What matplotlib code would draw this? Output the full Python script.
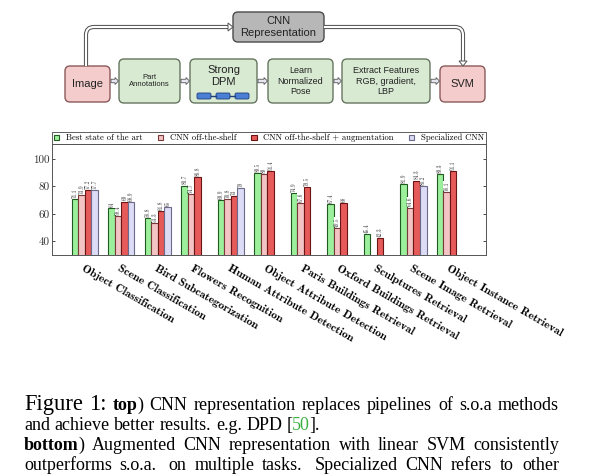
import numpy as np
import matplotlib
matplotlib.use("Agg")
import matplotlib.pyplot as plt
from matplotlib.patches import FancyBboxPatch, FancyArrow, Polygon
from matplotlib.path import Path
from matplotlib.patches import PathPatch

# data for the bar chart
categories = ["Object Classification", "Scene Classification", "Bird Subcategorization",
              "Flowers Recognition", "Human Attribute Detection", "Object Attribute Detection",
              "Paris Buildings Retrieval", "Oxford Buildings Retrieval", "Sculptures Retrieval",
              "Scene Image Retrieval", "Object Instance Retrieval"]
best = [71.1, 64, 56.8, 80.7, 69.9, 89.5, 74.9, 67.4, 45.4, 81.9, 89.3]
cnn = [73.9, 58.4, 53.3, 74.7, 70.8, 89, 67.6, 49.5, np.nan, 64.6, 76.1]
aug = [77.2, 69, 61.8, 86.8, 73, 91.4, 79.5, 68, 42.3, 84.3, 91.1]
spec = [77.7, 68.9, 65, np.nan, 79, np.nan, np.nan, np.nan, np.nan, 80.2, np.nan]
series_names = ["Best state of the art", "CNN off-the-shelf",
                "CNN off-the-shelf + augmentation", "Specialized CNN"]
yticks = [40, 60, 80, 100]

fig = plt.figure(figsize=(6, 4.76), dpi=100)

# overlay in pixel coordinates for the flowchart and the caption
ov = fig.add_axes([0, 0, 1, 1])
ov.set_xlim(0, 600)
ov.set_ylim(476, 0)
ov.axis("off")

pink, pink_ec = "#f4cccc", "#8a5a5a"
green, green_ec = "#d9ead3", "#66755f"
gray, gray_ec = "#b7b7b7", "#4a4a4a"
sans = "Liberation Sans"


def box(x0, y0, x1, y1, fc, ec, label, fs, dy=0):
    p = FancyBboxPatch((x0, y0), x1 - x0, y1 - y0,
                       boxstyle="round,pad=0,rounding_size=5",
                       fc=fc, ec=ec, lw=1.0)
    ov.add_patch(p)
    ov.text((x0 + x1) / 2, (y0 + y1) / 2 + dy, label, ha="center", va="center",
            fontsize=fs, family=sans, color="#222222", linespacing=1.15)


box(233, 12, 324, 42, gray, gray_ec, "CNN\nRepresentation", 8)
box(65, 66, 110, 102, pink, pink_ec, "Image", 8)
box(119, 59, 180, 103, green, green_ec, "Part\nAnnotations", 5.5)
box(190, 59, 257, 103, green, green_ec, "Strong\nDPM", 8, dy=-5)
box(268, 59, 333, 103, green, green_ec, "Learn\nNormalized\nPose", 6.5)
box(342, 59, 430, 103, green, green_ec, "Extract Features\nRGB, gradient,\nLBP", 6.5)
box(440, 66, 485, 102, pink, pink_ec, "SVM", 8)

# little DPM parts inside the Strong DPM box
for bx in [197, 216, 235]:
    ov.add_patch(FancyBboxPatch((bx, 93), 14, 6, boxstyle="round,pad=0,rounding_size=1.5",
                                fc="#4a7fd4", ec="#1f3f7a", lw=0.6))
for bx in [211, 230]:
    ov.plot([bx, bx + 5], [96, 96], color="#1f3f7a", lw=1.0)

# small hollow arrows between the boxes
for xa, xb in [(111, 118), (181, 189), (258, 267), (334, 341), (431, 439)]:
    ov.add_patch(FancyArrow(xa, 81, xb - xa - 3, 0, width=3.5, head_width=7,
                            head_length=3.5, length_includes_head=False,
                            fc="#e6e6f0", ec="#555555", lw=0.6))

# top route through the CNN box (double line)
left_path = Path([(86, 66), (86, 35), (86, 27), (94, 27), (228, 27)],
                 [Path.MOVETO, Path.LINETO, Path.CURVE3, Path.CURVE3, Path.LINETO])
right_path = Path([(324, 27), (455, 27), (463, 27), (463, 35), (463, 61)],
                  [Path.MOVETO, Path.LINETO, Path.CURVE3, Path.CURVE3, Path.LINETO])
for pth in [left_path, right_path]:
    ov.add_patch(PathPatch(pth, fc="none", ec="#555555", lw=3.0, capstyle="butt"))
    ov.add_patch(PathPatch(pth, fc="none", ec="white", lw=1.5, capstyle="butt"))
ov.add_patch(Polygon([(228, 23), (233, 27), (228, 31)], closed=True,
                     fc="white", ec="#555555", lw=0.7))
ov.add_patch(Polygon([(459, 61), (463, 66), (467, 61)], closed=True,
                     fc="white", ec="#555555", lw=0.7))

# bar chart
ax = fig.add_axes([52 / 600, 1 - 255 / 476, 434 / 600, 111 / 476])
fills = ["#9cf09c", "#f4c4c4", "#e65a5a", "#dcdcf6"]
edges = ["#1f5a1f", "#7a3a3a", "#6a1414", "#6a6a8a"]
w = 0.18
x = np.arange(len(categories))
for k, vals in enumerate([best, cnn, aug, spec]):
    vals = np.array(vals, dtype=float)
    pos = x + (k - 1.5) * w
    ok = ~np.isnan(vals)
    ax.bar(pos[ok], vals[ok], width=w, color=fills[k], edgecolor=edges[k],
           lw=0.8, label=series_names[k], zorder=2)
    for p, v in zip(pos[ok], vals[ok]):
        ax.text(p, v + 0.8, f"{v:g}", rotation=90, ha="center", va="bottom",
                fontsize=3.8, family="cmr10", color="#333333", zorder=3,
                bbox=dict(fc="white", ec="none", pad=0.2))

ax.set_xlim(-0.9, 10.99)
ax.set_ylim(30, 111)
ax.set_yticks(yticks)
ax.set_yticklabels([str(t) for t in yticks], family="cmr10", fontsize=8, color="#333333")
ax.tick_params(axis="y", direction="in", right=True, length=2, width=0.5, pad=2)
ax.set_xticks(x)
ax.set_xticklabels(categories, rotation=-30, ha="left", va="top",
                   rotation_mode="anchor", family="cmb10", fontsize=8.4)
ax.tick_params(axis="x", length=0, pad=6)
for s in ax.spines.values():
    s.set_color("#555555")
    s.set_linewidth(0.7)

leg = ax.legend(loc="lower left", bbox_to_anchor=(0, 1.0, 1, 0.1), mode="expand",
                ncol=4, borderaxespad=0, fancybox=False, edgecolor="#444444",
                prop={"family": "cmr10", "size": 6.2}, handlelength=0.6,
                handleheight=0.6, handletextpad=0.8, borderpad=0.2,
                columnspacing=1.0, framealpha=1)
leg.get_frame().set_linewidth(0.6)

# caption, justified like the paper
serif = "Liberation Serif"
fs = 13
reg = dict(family=serif, fontsize=fs, color="black")
bold = dict(family=serif, fontsize=fs, color="black", weight="bold")
big = dict(family=serif, fontsize=16.3, color="black")
grn = dict(family=serif, fontsize=fs, color="#3cb043")

renderer = fig.canvas.get_renderer()


def seg_width(s, kw):
    t = ov.text(0, 0, s, **kw)
    wd = t.get_window_extent(renderer).width
    t.remove()
    return wd


def place_line(words, y, justify, x0=24, x1=559):
    widths = [[seg_width(s, kw) for s, kw in wd] for wd in words]
    # pieces inside one word sit a bit closer
    widths = [[sw - 0.5 if i < len(ws) - 1 else sw for i, sw in enumerate(ws)] for ws in widths]
    total = sum(sum(ws) for ws in widths)
    # wider space after a sentence end, like TeX
    weights = [1.5 if wd[-1][0].endswith(".") else 1.0 for wd in words[:-1]]
    if justify:
        unit = (x1 - x0 - total) / sum(weights)
    else:
        unit = fs * 100 / 72 * 0.25
        weights = [1.0] * len(weights)
    xp = x0
    for i, (wd, ws) in enumerate(zip(words, widths)):
        for (s, kw), sw in zip(wd, ws):
            ov.text(xp, y, s, ha="left", va="baseline", **kw)
            xp += sw
        if i < len(weights):
            xp += unit * weights[i]


def plain(text):
    return [[(t, reg)] for t in text.split()]


line1 = [[("Figure", big)], [("1:", big)], [("top", bold), (")", reg)]] + \
    plain("CNN representation replaces pipelines of s.o.a methods")
line2 = plain("and achieve better results. e.g. DPD") + [[("[", reg), ("50", grn), ("].", reg)]]
line3 = [[("bottom", bold), (")", reg)]] + \
    plain("Augmented CNN representation with linear SVM consistently")
line4 = plain("outperforms s.o.a. on multiple tasks. Specialized CNN refers to other")

place_line(line1, 410, True)
place_line(line2, 430, False)
place_line(line3, 450, True)
place_line(line4, 470, True)

fig.savefig("out.png", dpi=100)
